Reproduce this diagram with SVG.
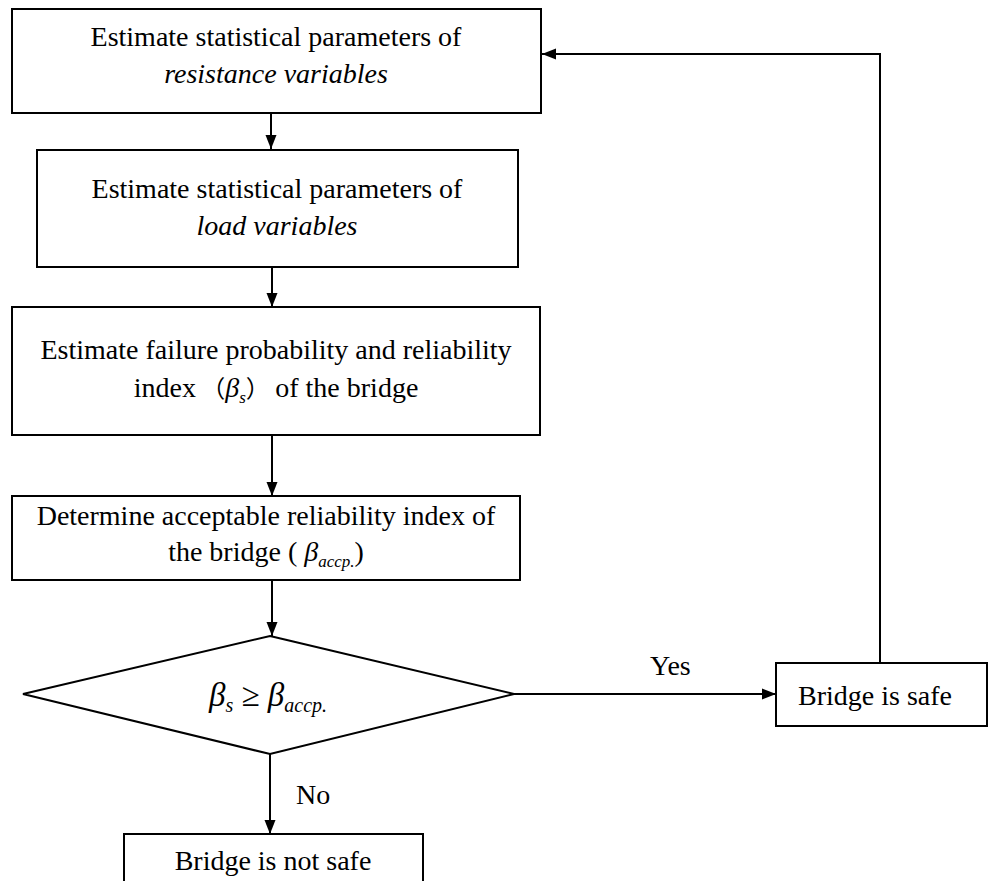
<svg xmlns="http://www.w3.org/2000/svg" width="992" height="881" viewBox="0 0 992 881">
<style>
  .box { fill: #ffffff; stroke: #000000; stroke-width: 2; }
  .t { font-family: "Liberation Serif", "Times New Roman", serif; font-size: 28px; fill: #000000; }
  .c { text-anchor: middle; }
  .it { font-style: italic; }
  .sub { font-size: 17px; }
  .cjk { font-family: "Noto Sans CJK SC", sans-serif; font-size: 24px; }
  .conn { fill: none; stroke: #000000; stroke-width: 2; }
</style>
<defs>
  <marker id="arr" viewBox="0 0 14 12" refX="14" refY="6" markerWidth="14" markerHeight="12" markerUnits="userSpaceOnUse" orient="auto">
    <path d="M0,0.5 L14,6 L0,11.5 Z" fill="#000000"/>
  </marker>
</defs>
<rect width="992" height="881" fill="#ffffff"/>

<g id="connectors">
  <line class="conn" x1="271" y1="113" x2="271" y2="149" marker-end="url(#arr)"/>
  <line class="conn" x1="272" y1="267" x2="272" y2="307" marker-end="url(#arr)"/>
  <line class="conn" x1="272" y1="435" x2="272" y2="496" marker-end="url(#arr)"/>
  <line class="conn" x1="272" y1="580" x2="272" y2="636" marker-end="url(#arr)"/>
  <line class="conn" x1="270" y1="754" x2="270" y2="834" marker-end="url(#arr)"/>
  <line class="conn" x1="514" y1="694" x2="776" y2="694" marker-end="url(#arr)"/>
  <polyline class="conn" points="880,663 880,54 542,54" marker-end="url(#arr)"/>
  <text class="t" x="296" y="804">No</text>
  <text class="t" x="650" y="675">Yes</text>
</g>

<g id="n1">
  <rect class="box" x="12" y="9" width="529" height="104"/>
  <text class="t c" x="276" y="46">Estimate statistical parameters of</text>
  <text class="t c it" x="276" y="83">resistance variables</text>
</g>

<g id="n2">
  <rect class="box" x="37" y="150" width="481" height="117"/>
  <text class="t c" x="277" y="198">Estimate statistical parameters of</text>
  <text class="t c it" x="277" y="235">load variables</text>
</g>

<g id="n3">
  <rect class="box" x="12" y="307" width="528" height="128"/>
  <text class="t c" x="276" y="359">Estimate failure probability and reliability</text>
  <text class="t c" x="276" y="397">index<tspan class="cjk"> （</tspan><tspan class="it">β</tspan><tspan class="it sub" dy="6">s</tspan><tspan class="cjk" dy="-6">） </tspan>of the bridge</text>
</g>

<g id="n4">
  <rect class="box" x="12" y="496" width="508" height="84"/>
  <text class="t c" x="266" y="525">Determine acceptable reliability index of</text>
  <text class="t c" x="266" y="561">the bridge ( <tspan class="it">β</tspan><tspan class="it sub" dy="6">accp.</tspan><tspan dy="-6">)</tspan></text>
</g>

<g id="n5">
  <polygon class="box" points="270,636 514,694 270,754 23,694"/>
  <text class="t" x="209" y="706" style="font-size:33px"><tspan class="it">β</tspan><tspan class="it" style="font-size:20px" dy="6">s</tspan><tspan dy="-6"> ≥ </tspan><tspan class="it">β</tspan><tspan class="it" style="font-size:20px" dy="6">accp.</tspan></text>
</g>

<g id="n6">
  <rect class="box" x="776" y="663" width="211" height="63"/>
  <text class="t" x="798" y="705">Bridge is safe</text>
</g>

<g id="n7">
  <rect class="box" x="124" y="834" width="299" height="60"/>
  <text class="t c" x="273" y="870">Bridge is not safe</text>
</g>
</svg>
